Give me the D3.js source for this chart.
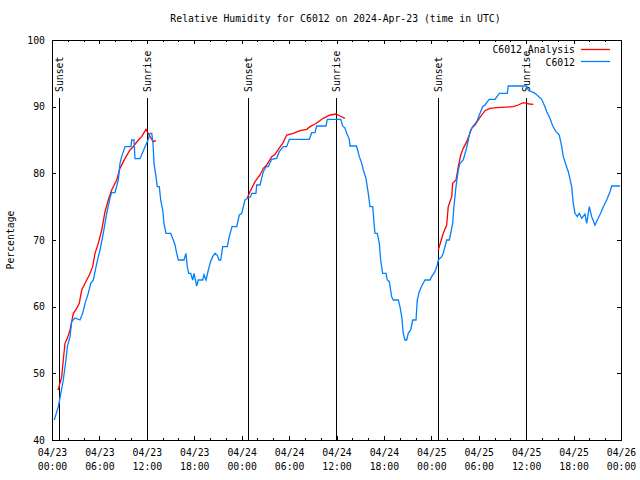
<!DOCTYPE html>
<html><head><meta charset="utf-8">
<script src="https://cdn.jsdelivr.net/npm/d3@7"></script>
<style>
body{margin:0;background:#fff}
text{font-family:"DejaVu Sans Mono","Liberation Mono",monospace;font-size:9.8px;fill:#000}
</style>
</head><body>
<svg id="c" width="640" height="480"></svg>
<script>
// ---- data ----
const titleText = "Relative Humidity for C6012 on 2024-Apr-23 (time in UTC)";
const startTime = Date.UTC(2024, 3, 23, 0, 0, 0);
const yLabel = "Percentage";
const seriesNames = ["C6012 Analysis", "C6012"];
const seriesColors = ["#ff0000", "#0080ff"];

// observed C6012 (hours since 04/23 00:00 UTC, percent)
const obsHours = [0.29,0.80,1.01,1.43,1.77,1.94,2.28,2.49,2.91,3.54,3.88,4.18,4.59,4.90,5.23,5.66,6.07,6.49,6.92,7.34,7.55,7.97,8.39,8.60,8.82,9.24,10.0,10.08,10.38,10.50,11.14,11.77,12.15,12.40,12.62,12.78,12.91,13.16,13.32,13.58,13.75,14.01,14.17,14.42,15.02,15.35,15.56,15.78,15.98,16.70,16.95,17.12,17.30,17.55,17.80,17.97,18.31,18.51,19.07,19.23,19.49,19.78,20.08,20.33,20.63,20.92,21.13,21.35,21.60,22.18,22.43,22.78,23.37,23.70,24.00,24.42,24.84,25.14,25.27,25.81,25.90,26.32,26.53,26.74,27.08,27.37,27.80,28.43,28.76,29.27,29.70,30.03,32.56,32.86,33.28,33.49,34.67,34.84,36.53,36.78,37.07,37.29,37.62,37.71,38.53,38.89,39.19,39.39,39.73,40.02,40.24,40.58,40.79,40.87,41.16,41.42,41.59,41.84,42.26,42.43,42.68,42.98,43.19,43.82,44.03,44.25,44.45,44.67,44.88,45.08,45.39,45.64,46.06,46.22,46.48,46.78,47.20,47.83,48.04,48.46,48.75,48.88,49.31,49.51,49.94,50.27,50.45,50.70,50.86,51.12,51.41,51.63,52.04,52.39,52.68,52.89,53.24,53.74,54.07,54.50,54.79,55.33,56.06,56.60,57.61,57.74,60.07,60.27,61.12,61.33,61.96,62.38,62.60,63.01,63.36,63.78,64.19,64.50,64.70,65.04,65.33,65.76,65.96,66.18,66.47,66.72,67.03,67.44,67.66,67.99,68.29,68.71,69.00,69.43,69.76,70.19,70.61,70.82,71.87];
const obsValues = [43.0,45.0,46.3,49,52,54,55.5,57.75,58.3,58,59,60.5,62,63.5,64,66.5,68.5,71,74,76.3,77.1,77.1,79,81.5,82.5,84,84,85,85,82.2,82.2,84,85,86,86,84.5,81.5,79.5,78,78,76,74.5,72.5,71,71,70,69.3,68,67,67,68,66,65,65,64,65,63.1,64,64,64.8,64,65.5,66.8,67.5,68,67.7,67,67,69,69,70.5,72,72,73.75,74,76,76.3,76.5,77,77,78.25,78.25,79.25,80.25,81,81,82.1,82.25,83.25,84,84,85.1,85.1,86.1,86.1,87.1,87.1,88.1,88.1,87.1,86.8,86,85.1,84.1,84.1,82.5,81.5,80.5,79.25,77,75,75,72,71,71,69.5,67,65,65,64,63.75,61.5,61,61,60,58.5,56,55,55,56,56.5,58,58,61,62.25,63.1,64,64,64.5,65.25,66.25,67,67.5,68,70,70,71,72.5,75,78,80.5,81.5,82,83.5,85,86.25,87,87.75,88.75,90,90.25,91.1,91.1,92,92,93.1,93.1,92.5,92,91.8,91.1,90,89.25,88.25,87.1,86.25,85.75,84,82.5,81.25,80.25,78,75.5,74,73.5,74,73.25,73.9,72.5,75,73.5,72.25,73,74,75,76,77.25,78.1,78.1];

// analysis (null = gap between nightly runs)
const anaHours = [0.67,0.80,1.23,1.43,1.64,1.94,2.28,2.70,3.13,3.45,3.76,4.18,4.72,5.15,5.44,5.86,6.29,6.71,7.12,7.55,8.19,8.60,9.24,9.87,10.29,10.92,11.35,11.89,12.40,12.82,13.16,
  20.0,
  24.71,25.05,25.69,26.32,26.74,27.17,27.80,28.22,28.64,29.19,29.70,30.53,31.38,32.23,32.65,33.28,33.70,34.33,35.18,35.94,36.44,37.07,
  44.0,
  48.88,49.51,49.94,50.14,50.58,50.70,51.12,51.41,51.72,52.04,52.47,52.80,53.10,53.52,54.07,54.79,55.42,56.27,58.37,58.99,59.63,60.07,60.40,60.90];
const anaValues = [47.6,47.6,49.5,52,54.5,55.25,56.5,59,59.75,60.5,62.5,63.5,64.75,66,68,69.5,71.5,74.25,76,77.5,79,80.75,82.25,83.5,84,85,85.5,86.6,85.5,84.75,84.9,
  null,
  76.3,77.25,78.75,79.75,80.75,81.25,82.5,82.85,83.6,84.5,85.75,86,86.4,86.6,87,87.4,87.75,88.25,88.75,88.9,88.6,88.25,
  null,
  68.5,71,72.25,75,76.5,78.5,79,81,82.75,83.75,84.75,85.75,86.75,87.25,88.25,89.4,89.75,89.85,90,90.25,90.6,90.5,90.4,90.35];

const sunsetHours = [0.89, 24.81, 48.85];
const sunriseHours = [11.98, 35.94, 59.98];

const yTicks = [40,50,60,70,80,90,100];
const xMajorHours = [0,6,12,18,24,30,36,42,48,54,60,66,72];
const xMinorHours = d3.range(0, 73, 2);

// ---- drawing ----
const H = 3600*1000;
const toDate = h => new Date(startTime + h*H);
const svg = d3.select("#c");
const L = 52, R = 621, T = 40, B = 440;
const x = d3.scaleUtc().domain([toDate(0), toDate(72)]).range([L, R]);
const y = d3.scaleLinear().domain([40, 100]).range([B, T]);

svg.append("rect").attr("width",640).attr("height",480).attr("fill","#fff");

svg.append("text").attr("x", 335.5).attr("y", 19).attr("dy","0.35em")
  .attr("text-anchor","middle").text(titleText);

svg.append("text").attr("transform","translate(11,240) rotate(-90)")
  .attr("dy","0.35em").attr("text-anchor","middle").text(yLabel);

// axes
const fmtD = d3.utcFormat("%m/%d"), fmtT = d3.utcFormat("%H:%M");
const gx = svg.append("g").attr("transform",`translate(0,${B})`)
  .call(d3.axisBottom(x).tickValues(xMajorHours.map(toDate)).tickSizeInner(-4).tickSizeOuter(0).tickPadding(9));
gx.selectAll(".tick text").each(function(d){
  const t = d3.select(this); t.text(null);
  t.append("tspan").attr("x",0).attr("dy","0.71em").text(fmtD(d));
  t.append("tspan").attr("x",0).attr("dy","1.43em").text(fmtT(d));
});
svg.append("g").attr("transform",`translate(0,${B})`)
  .call(d3.axisBottom(x).tickValues(xMinorHours.map(toDate)).tickSize(-2).tickFormat(""));
svg.append("g").attr("transform",`translate(0,${T})`)
  .call(d3.axisTop(x).tickValues(xMajorHours.map(toDate)).tickSize(-4).tickFormat(""));
svg.append("g").attr("transform",`translate(0,${T})`)
  .call(d3.axisTop(x).tickValues(xMinorHours.map(toDate)).tickSize(-2).tickFormat(""));
svg.append("g").attr("transform",`translate(${L},0)`)
  .call(d3.axisLeft(y).tickValues(yTicks).tickSizeInner(-4).tickSizeOuter(0).tickPadding(7));
svg.append("g").attr("transform",`translate(${R},0)`)
  .call(d3.axisRight(y).tickValues(yTicks).tickSize(-4).tickFormat(""));
svg.selectAll(".domain").remove();
svg.selectAll(".tick line").attr("stroke","#000").attr("shape-rendering","crispEdges");
svg.selectAll(".tick text").attr("fill","#000");
svg.selectAll("g").attr("font-family",null).attr("font-size",null);

svg.append("rect").attr("x",L).attr("y",T).attr("width",R-L).attr("height",B-T)
  .attr("fill","none").attr("stroke","#000").attr("shape-rendering","crispEdges");

// sunset / sunrise markers
const marks = sunsetHours.map(h=>({h, label:"Sunset"})).concat(sunriseHours.map(h=>({h, label:"Sunrise"})));
marks.forEach(m => {
  const px = Math.round(x(toDate(m.h))) + 0.5;
  svg.append("line").attr("x1",px).attr("x2",px).attr("y1",y(91.3)).attr("y2",B)
    .attr("stroke","#000").attr("stroke-width",1).attr("shape-rendering","crispEdges");
  svg.append("text").attr("transform",`translate(${px+0.5},${y(92.2)}) rotate(-90)`)
    .attr("dy","0.35em").text(m.label);
});

// series
const line = d3.line().defined(d => d.v != null).x(d => x(toDate(d.t))).y(d => y(d.v));
const ana = anaHours.map((t,i)=>({t, v: anaValues[i]}));
const obs = obsHours.map((t,i)=>({t, v: obsValues[i]}));
svg.append("path").datum(ana).attr("d", line).attr("fill","none").attr("stroke",seriesColors[0]).attr("stroke-width",1.3);
svg.append("path").datum(obs).attr("d", line).attr("fill","none").attr("stroke",seriesColors[1]).attr("stroke-width",1.3);

// legend
seriesNames.forEach((n,i) => {
  const ly = 50 + i*12.3;
  svg.append("text").attr("x",575).attr("y",ly).attr("dy","0.35em").attr("text-anchor","end").text(n);
  svg.append("line").attr("x1",581).attr("x2",610).attr("y1",Math.round(ly)-0.5).attr("y2",Math.round(ly)-0.5)
    .attr("stroke",seriesColors[i]).attr("stroke-width",1.3);
});
</script>
</body></html>
